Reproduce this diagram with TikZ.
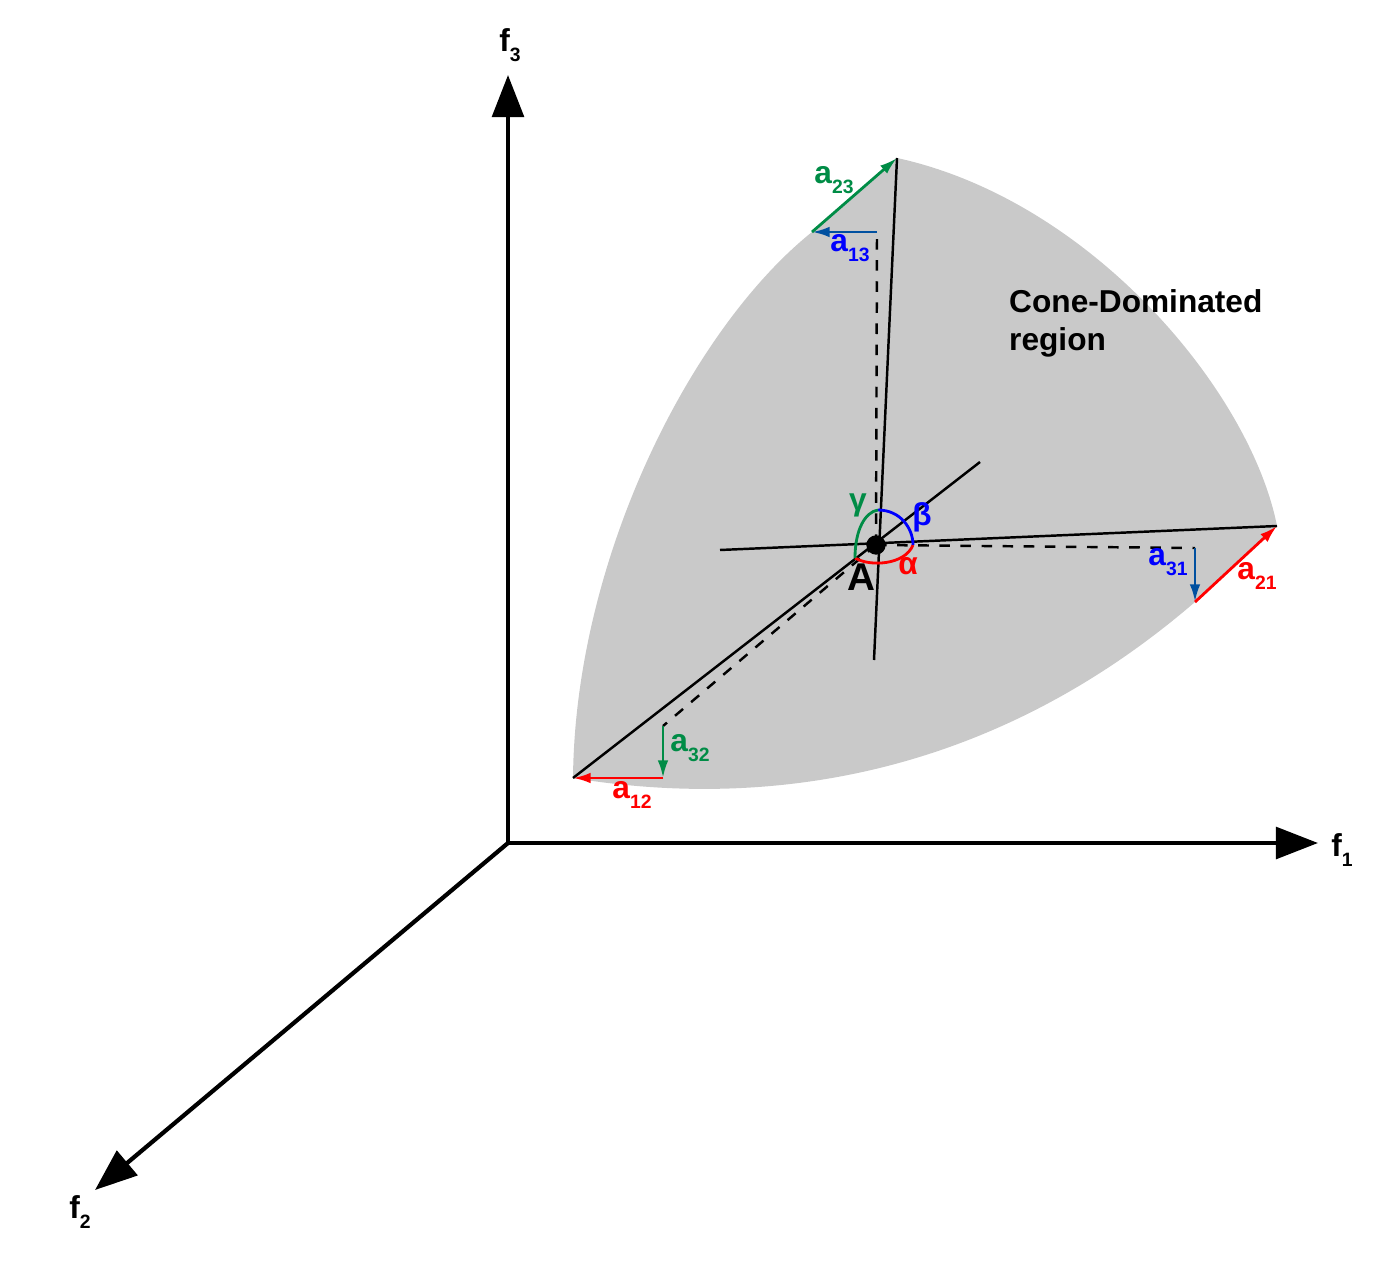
\documentclass[tikz,border=0pt]{standalone}
\usepackage{fontspec}
\setmainfont{Liberation Sans}
\usetikzlibrary{arrows.meta}
\definecolor{myred}{RGB}{255,0,0}
\definecolor{mygreen}{RGB}{0,140,70}
\definecolor{myblue}{RGB}{0,80,160}
\definecolor{lblue}{RGB}{0,0,255}
\newcommand{\lowsub}[1]{\raisebox{-3pt}{\fontsize{5.5}{6}\selectfont #1}}
\tikzset{
  axis/.style={line width=1.2pt, -{Triangle[length=12pt,width=9pt]}},
  conn/.style={line width=0.7pt},
  vec/.style={line width=0.8pt, -{Latex[length=5pt,width=3pt]}},
  lbl/.style={font=\bfseries\fontsize{9}{11}\selectfont, inner sep=1pt},
}
\begin{document}
\begin{tikzpicture}[x=0.01cm,y=-0.01cm]
  \useasboundingbox (0,0) rectangle (1376,1264);
  % named points
  \coordinate (o) at (508,843);
  \coordinate (t) at (897,158);
  \coordinate (r) at (1277,526);
  \coordinate (b) at (874,660);
  \coordinate (l) at (720,550);
  \coordinate (ll) at (573,778);
  \coordinate (ur) at (980,462);
  \coordinate (p13) at (877,232);
  \coordinate (q13) at (812,232);
  \coordinate (p31) at (1195,548);
  \coordinate (q31) at (1195,602);
  \coordinate (p32) at (663,726);
  \coordinate (q32) at (663,778);

  % shaded region
  \fill[gray!42] (t) .. controls (1090,200) and (1250,390) .. (r)
    -- (q31) .. controls (1000,770) and (780,812) .. (ll)
    .. controls (575,560) and (690,330) .. (q13) -- cycle;

  % axes
  \draw[axis] (o) -- (508,75);
  \draw[axis] (o) -- (1318,843);
  \draw[axis] (o) -- (95,1190);
  \node[lbl] (f3) at (510,45) {f\lowsub{3}};
  \node[lbl] (f1) at (1342,850) {f\lowsub{1}};
  \node[lbl] (f2) at (80,1212) {f\lowsub{2}};

  % cone lines
  \draw[conn] (t) -- (b);
  \draw[conn] (l) -- (r);
  \draw[conn] (ll) -- (ur);
  \node[circle, fill, inner sep=0pt, minimum size=5.5pt] (A) at (876,545) {};

  % dashed projections
  \draw[conn, dashed] (A.center) -- (p13);
  \draw[conn, dashed] (A.center) -- (p31);
  \draw[conn, dashed] (A.center) -- (p32);

  % vectors
  \draw[vec, myblue] (p13) -- (q13);
  \draw[vec, mygreen] (q13) -- (t);
  \draw[vec, myblue] (p31) -- (q31);
  \draw[vec, myred] (q31) -- (r);
  \draw[vec, mygreen] (p32) -- (q32);
  \draw[vec, myred] (q32) -- (ll);

  % angles
  \draw[myred, line width=0.8pt] (855,558) .. controls (870,567) and (905,565) .. (913,545);
  \draw[lblue, line width=0.8pt] (878,510) .. controls (900,510) and (913,528) .. (913,545);
  \draw[mygreen, line width=0.8pt] (855,558) .. controls (855,530) and (865,512) .. (878,510);

  % labels
  \node[lbl, mygreen] (a23) at (834,180) {a\lowsub{23}};
  \node[lbl, lblue] (a13) at (850,248) {a\lowsub{13}};
  \node[lbl, lblue] (a31) at (1168,562) {a\lowsub{31}};
  \node[lbl, myred] (a21) at (1257,576) {a\lowsub{21}};
  \node[lbl, mygreen] (a32) at (690,748) {a\lowsub{32}};
  \node[lbl, myred] (a12) at (632,795) {a\lowsub{12}};
  \node[lbl, mygreen] (gam) at (858,505) {γ};
  \node[lbl, lblue] (bet) at (922,517) {β};
  \node[lbl, myred] (alp) at (908,566) {α};
  \node[font=\bfseries\fontsize{11}{12}\selectfont] (lA) at (861,577) {A};
  \node[lbl, anchor=north west, align=left] (cone) at (1005,285) {Cone-Dominated\\region};
\end{tikzpicture}
\end{document}
